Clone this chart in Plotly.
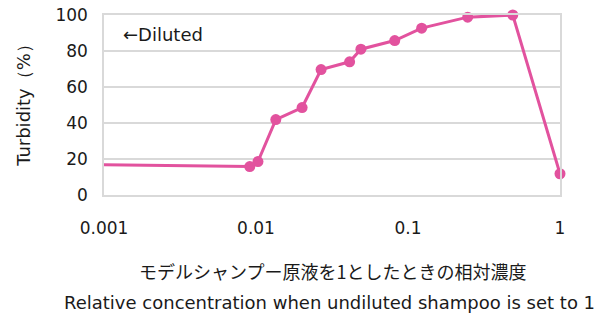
import plotly.graph_objects as go

# Relative concentration (undiluted shampoo = 1) and turbidity (%)
concentration = [0.0001, 0.0091, 0.0103, 0.0135, 0.0201, 0.0268, 0.0413, 0.049, 0.0818, 0.123, 0.247, 0.489, 1.0]
turbidity = [17.8, 15.8, 18.6, 41.9, 48.6, 69.7, 74.0, 81.0, 85.8, 92.7, 98.8, 100.0, 11.8]

x_tickvals = [0.001, 0.01, 0.1, 1]
x_ticktext = ["0.001", "0.01", "0.1", "1"]
y_tickvals = [0, 20, 40, 60, 80, 100]

PINK = "#E2529E"
GRID = "#D9D9D9"
TXT = "#1a1a1a"
FONT = "DejaVu Sans, Verdana, sans-serif"
JFONT = "Noto Sans CJK JP, sans-serif"

fig = go.Figure()
fig.add_trace(go.Scatter(
    x=concentration, y=turbidity, mode="lines+markers",
    line=dict(color=PINK, width=3),
    marker=dict(color=PINK, size=11, opacity=1, line=dict(width=0)),
    cliponaxis=False, showlegend=False,
))

# The page body has an 8px default margin, so the figure is offset by it.
fig.update_layout(
    width=597, height=306,
    margin=dict(l=96, r=45, t=7, b=119),
    paper_bgcolor="white", plot_bgcolor="white",
    font=dict(family=FONT, size=17, color=TXT),
    xaxis=dict(
        type="log", range=[-3, 0], automargin=False,
        tickvals=x_tickvals, ticktext=x_ticktext, ticklabeloverflow="allow",
        showgrid=False, zeroline=False,
        showline=True, mirror=True, linecolor=GRID, linewidth=1.5,
        ticks="outside", ticklen=17, tickcolor="rgba(0,0,0,0)",
    ),
    yaxis=dict(
        range=[0, 100], tickvals=y_tickvals, automargin=False, ticklabeloverflow="allow",
        showgrid=True, gridcolor=GRID, gridwidth=1.5, zeroline=False,
        showline=True, mirror=True, linecolor=GRID, linewidth=1.5,
        ticks="outside", ticklen=11, tickcolor="rgba(0,0,0,0)",
    ),
    annotations=[
        dict(text="Turbidity（%）", xref="paper", yref="paper", x=-0.178, y=0.522,
             textangle=-90, xanchor="center", yanchor="middle", showarrow=False,
             font=dict(family=FONT, size=18)),
        dict(text="←Diluted", xref="paper", yref="paper", x=0.037, y=0.894,
             xanchor="left", yanchor="middle", showarrow=False,
             font=dict(family=FONT, size=18)),
        dict(text="モデルシャンプー原液を1としたときの相対濃度", xref="paper", yref="paper",
             x=0.5, y=0, yshift=-76, xanchor="center", yanchor="middle", showarrow=False,
             font=dict(family=JFONT, size=18)),
        dict(text="Relative concentration when undiluted shampoo is set to 1", xref="paper", yref="paper",
             x=0.494, y=0, yshift=-107, xanchor="center", yanchor="middle", showarrow=False,
             font=dict(family=FONT, size=18)),
    ],
)

fig.write_html("out.html")
